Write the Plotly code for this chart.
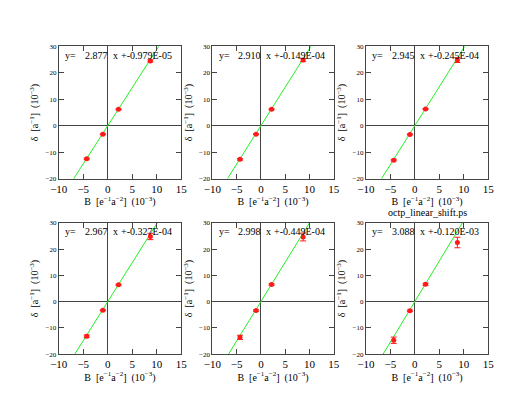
import plotly.graph_objects as go
from plotly.subplots import make_subplots

# pendientes e intercepto de cada ajuste lineal
slopes = [2.877, 2.910, 2.945, 2.967, 2.998, 3.088]
intercept_labels = ["+-0.979E-05", "+-0.149E-04", "+-0.245E-04",
                    "+-0.327E-04", "+-0.449E-04", "+-0.120E-03"]

# puntos medidos (B, delta) en unidades de 10^-3
b_vals = [-4.3, -1.0, 2.2, 8.7]
delta_vals = [
    [-12.5, -3.2, 6.2, 24.5],
    [-12.7, -3.2, 6.2, 24.8],
    [-13.0, -3.3, 6.3, 24.8],
    [-13.2, -3.3, 6.4, 24.8],
    [-13.6, -3.4, 6.5, 24.6],
    [-14.7, -3.5, 6.6, 22.5],
]
delta_err = [
    [0.3, 0.2, 0.2, 0.4],
    [0.3, 0.2, 0.2, 0.6],
    [0.3, 0.2, 0.2, 0.9],
    [0.5, 0.2, 0.2, 1.2],
    [0.8, 0.3, 0.3, 1.5],
    [1.2, 0.3, 0.4, 2.0],
]

W, H = 529, 409
OFF = 8  # margen del body de la página
x_px = [(51, 177), (209, 334), (367, 493)]
y_px = [(43, 178), (223, 357)]

FONT = "Liberation Serif"
GREEN = "#22f022"
RED = "#ff1a1a"

fig = make_subplots(rows=2, cols=3)

for i in range(6):
    r, c = i // 3 + 1, i % 3 + 1
    s = slopes[i]
    xs = [-20 / s, 30 / s]
    fig.add_trace(go.Scatter(x=xs, y=[s * v for v in xs], mode="lines",
                             line=dict(color=GREEN, width=1),
                             showlegend=False, hoverinfo="skip"), row=r, col=c)
    fig.add_trace(go.Scatter(
        x=b_vals, y=delta_vals[i], mode="markers", showlegend=False,
        marker=dict(size=5, color=RED, line=dict(width=0)),
        error_y=dict(type="data", array=delta_err[i], color=RED,
                     thickness=1, width=3)), row=r, col=c)

    n = "" if i == 0 else str(i + 1)
    x0, x1 = x_px[c - 1]
    y0, y1 = y_px[r - 1]
    fig.update_layout(**{
        f"xaxis{n}": dict(domain=[(x0 - OFF) / W, (x1 - OFF) / W]),
        f"yaxis{n}": dict(domain=[1 - (y1 - OFF) / H, 1 - (y0 - OFF) / H]),
    })
    # texto de la recta ajustada, en trozos
    for xt, txt in [(-8.7, "y="), (-4.7, f"{s:.3f}"), (1.1, "x"),
                    (2.7, intercept_labels[i])]:
        fig.add_annotation(x=xt, y=26.7, xref=f"x{n}", yref=f"y{n}",
                           xanchor="left", text=txt, showarrow=False,
                           borderpad=0, borderwidth=0,
                           font=dict(family=FONT, size=10, color="black"))

fig.update_xaxes(range=[-10, 15], tickvals=[-10, -5, 0, 5, 10, 15],
                 ticktext=["\u221210", "\u22125", "0", "5", "10", "15"],
                 ticks="inside", ticklen=5, tickcolor="#444", showline=True,
                 linecolor="#444", linewidth=1, mirror="ticks", showgrid=False,
                 zeroline=True, zerolinecolor="#444", zerolinewidth=1,
                 tickfont=dict(family=FONT, size=11, color="black"),
                 title=dict(text="B  [e<sup>\u22121</sup>a<sup>\u22122</sup>]  (10<sup>\u22123</sup>)",
                            font=dict(family=FONT, size=10, color="black"),
                            standoff=0))
fig.update_yaxes(range=[-20, 30], tickvals=[-20, -10, 0, 10, 20, 30],
                 ticks="inside", ticklen=5, tickcolor="#444", showline=True,
                 linecolor="#444", linewidth=1, mirror="ticks", showgrid=False,
                 zeroline=True, zerolinecolor="#444", zerolinewidth=1,
                 tickfont=dict(family=FONT, size=7, color="black"),
                 title=dict(text="\u03b4  [a<sup>\u22121</sup>]  (10<sup>\u22123</sup>)",
                            font=dict(family=FONT, size=10, color="black"),
                            standoff=4))

fig.add_annotation(x=(430 - OFF) / W, y=1 - (212 - OFF) / H, xref="paper",
                   yref="paper", xanchor="center", yanchor="middle",
                   text="octp_linear_shift.ps", showarrow=False,
                   font=dict(family=FONT, size=10, color="black"))

fig.update_layout(width=W, height=H, margin=dict(l=0, r=0, t=0, b=0),
                  plot_bgcolor="white", paper_bgcolor="white")

fig.write_html("out.html")
